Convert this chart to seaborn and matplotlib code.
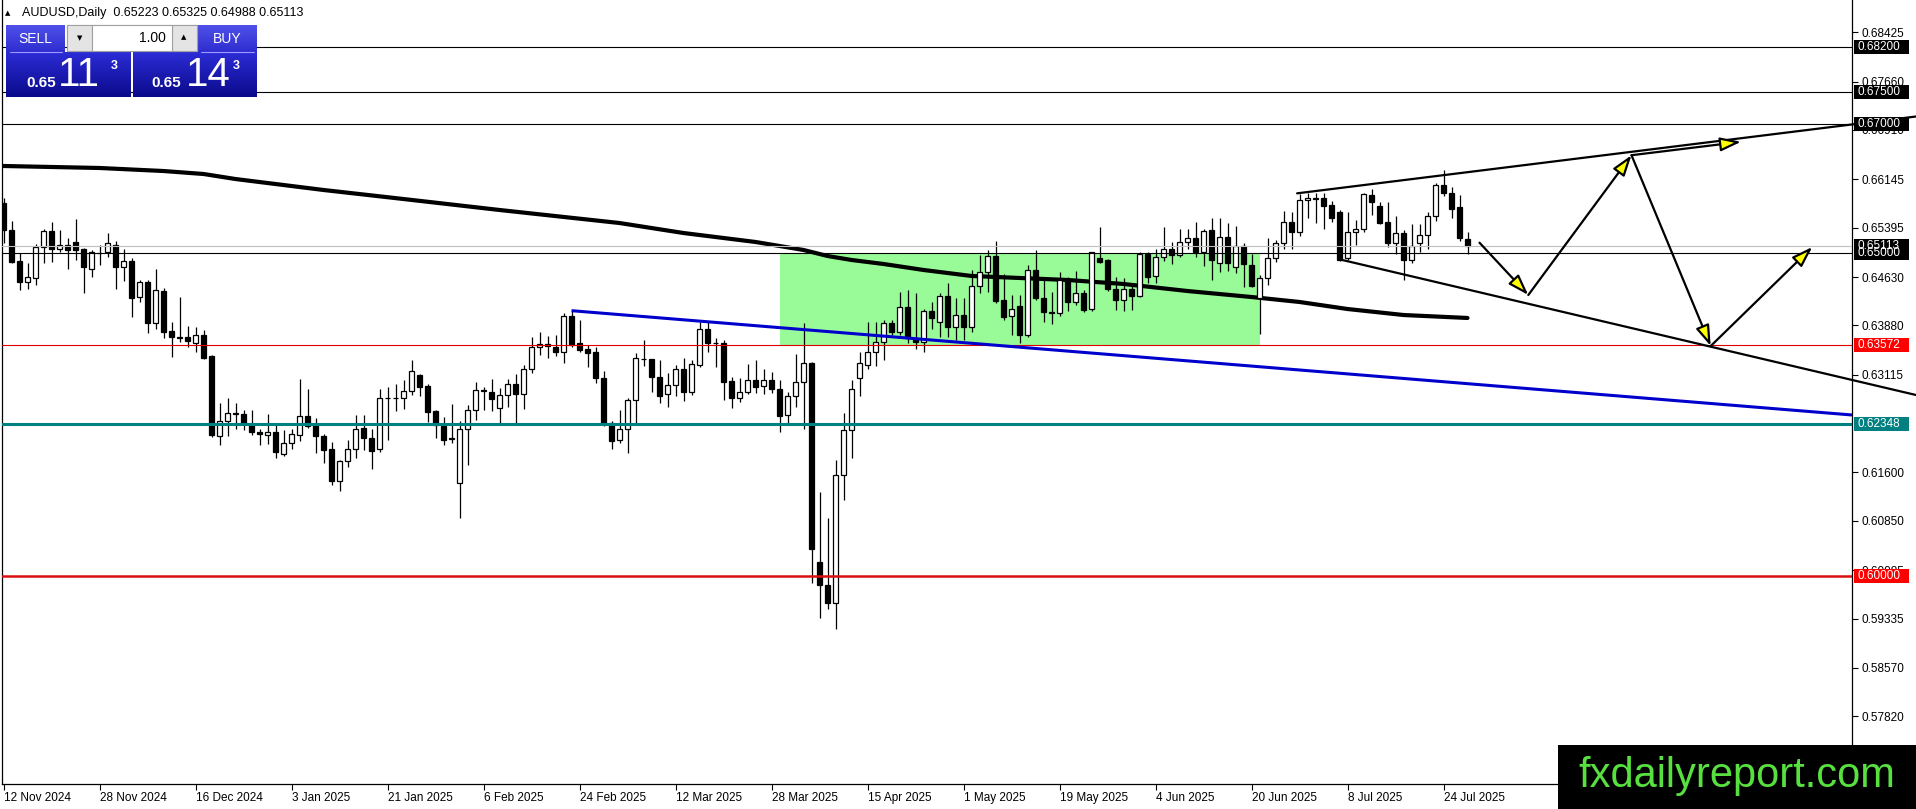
import numpy as np
import matplotlib
matplotlib.use("Agg")
import matplotlib.pyplot as plt
import matplotlib.colors as mcolors
import matplotlib.transforms as mtransforms
from matplotlib.patches import Rectangle
import seaborn as sns

# ---------------------------------------------------------------- data
symbol = "AUDUSD,Daily"

opens = [
    0.6577, 0.6536, 0.6488, 0.6456, 0.6462, 0.6510, 0.6534, 0.6506, 0.6513, 0.6517,
    0.6506, 0.6476, 0.6500, 0.6501, 0.6513, 0.6478, 0.6488, 0.6432, 0.6455, 0.6392,
    0.6441, 0.6379, 0.6370, 0.6370, 0.6360, 0.6373, 0.6340, 0.6217, 0.6240, 0.6252,
    0.6251, 0.6234, 0.6223, 0.6218, 0.6222, 0.6189, 0.6205, 0.6218, 0.6247, 0.6234,
    0.6216, 0.6196, 0.6147, 0.6178, 0.6196, 0.6229, 0.6214, 0.6196, 0.6276, 0.6275,
    0.6275, 0.6287, 0.6311, 0.6294, 0.6255, 0.6232, 0.6213, 0.6143, 0.6228, 0.6257,
    0.6287, 0.6285, 0.6260, 0.6280, 0.6297, 0.6281, 0.6320, 0.6354, 0.6359, 0.6354,
    0.6346, 0.6403, 0.6361, 0.6352, 0.6347, 0.6307, 0.6237, 0.6211, 0.6227, 0.6273,
    0.6336, 0.6336, 0.6308, 0.6281, 0.6295, 0.6321, 0.6285, 0.6327, 0.6383, 0.6361,
    0.6361, 0.6302, 0.6275, 0.6285, 0.6304, 0.6294, 0.6303, 0.6289, 0.6249, 0.6279,
    0.6301, 0.6330, 0.6022, 0.5985, 0.5958, 0.6156, 0.6226, 0.6306, 0.6327, 0.6346,
    0.6363, 0.6391, 0.6377, 0.6417, 0.6369, 0.6363, 0.6411, 0.6394, 0.6434, 0.6386,
    0.6404, 0.6385, 0.6449, 0.6470, 0.6496, 0.6427, 0.6402, 0.6418, 0.6373, 0.6474,
    0.6430, 0.6408, 0.6407, 0.6458, 0.6425, 0.6438, 0.6413, 0.6493, 0.6489, 0.6445,
    0.6428, 0.6444, 0.6434, 0.6499, 0.6464, 0.6494, 0.6507, 0.6497, 0.6518, 0.6524,
    0.6502, 0.6536, 0.6484, 0.6525, 0.6478, 0.6511, 0.6481, 0.6431, 0.6461, 0.6492,
    0.6515, 0.6549, 0.6533, 0.6582, 0.6586, 0.6586, 0.6574, 0.6563, 0.6493, 0.6532,
    0.6537, 0.6590, 0.6573, 0.6549, 0.6516, 0.6531, 0.6490, 0.6515, 0.6528, 0.6557,
    0.6605, 0.6594, 0.6571, 0.65223,
]
highs = [
    0.6585, 0.6550, 0.6500, 0.6484, 0.6514, 0.6537, 0.6548, 0.6536, 0.6524, 0.6553,
    0.6508, 0.6505, 0.6512, 0.6531, 0.6519, 0.6507, 0.6493, 0.6458, 0.6458, 0.6475,
    0.6446, 0.6393, 0.6432, 0.6387, 0.6385, 0.6381, 0.6342, 0.6267, 0.6276, 0.6267,
    0.6257, 0.6257, 0.6228, 0.6250, 0.6233, 0.6226, 0.6227, 0.6305, 0.6290, 0.6244,
    0.6219, 0.6208, 0.6180, 0.6210, 0.6249, 0.6249, 0.6228, 0.6289, 0.6292, 0.6297,
    0.6303, 0.6334, 0.6312, 0.6297, 0.6257, 0.6246, 0.6266, 0.6240, 0.6265, 0.6301,
    0.6292, 0.6305, 0.6291, 0.6305, 0.6313, 0.6326, 0.6370, 0.6377, 0.6372, 0.6373,
    0.6407, 0.6411, 0.6396, 0.6358, 0.6355, 0.6317, 0.6240, 0.6257, 0.6275, 0.6345,
    0.6366, 0.6336, 0.6334, 0.6314, 0.6327, 0.6337, 0.6334, 0.6394, 0.6394, 0.6369,
    0.6366, 0.6308, 0.6307, 0.6328, 0.6334, 0.6321, 0.6316, 0.6303, 0.6285, 0.6344,
    0.6392, 0.6332, 0.6130, 0.6089, 0.6179, 0.6252, 0.6303, 0.6347, 0.6394, 0.6394,
    0.6397, 0.6396, 0.6440, 0.6443, 0.6438, 0.6413, 0.6425, 0.6438, 0.6453, 0.6430,
    0.6430, 0.6474, 0.6497, 0.6505, 0.6519, 0.6467, 0.6435, 0.6435, 0.6482, 0.6505,
    0.6458, 0.6440, 0.6470, 0.6463, 0.6473, 0.6443, 0.6502, 0.6540, 0.6491, 0.6463,
    0.6461, 0.6449, 0.6502, 0.6502, 0.6507, 0.6541, 0.6518, 0.6537, 0.6537, 0.6549,
    0.6537, 0.6555, 0.6555, 0.6546, 0.6542, 0.6515, 0.6499, 0.6466, 0.6523, 0.6521,
    0.6566, 0.6564, 0.6592, 0.6594, 0.6594, 0.6593, 0.6581, 0.6567, 0.6563, 0.6551,
    0.6594, 0.6599, 0.6580, 0.6580, 0.6557, 0.6536, 0.6545, 0.6545, 0.6563, 0.6608,
    0.6629, 0.6603, 0.6590, 0.65325,
]
lows = [
    0.6516, 0.6484, 0.6443, 0.6445, 0.6450, 0.6485, 0.6487, 0.6501, 0.6475, 0.6490,
    0.6438, 0.6463, 0.6482, 0.6494, 0.6445, 0.6457, 0.6401, 0.6425, 0.6376, 0.6382,
    0.6368, 0.6339, 0.6362, 0.6355, 0.6347, 0.6336, 0.6215, 0.6202, 0.6216, 0.6227,
    0.6226, 0.6218, 0.6203, 0.6204, 0.6182, 0.6186, 0.6196, 0.6209, 0.6229, 0.6190,
    0.6174, 0.6141, 0.6132, 0.6168, 0.6183, 0.6195, 0.6166, 0.6191, 0.6210, 0.6256,
    0.6258, 0.6280, 0.6278, 0.6239, 0.6213, 0.6202, 0.6206, 0.6090, 0.6172, 0.6242,
    0.6257, 0.6256, 0.6237, 0.6262, 0.6236, 0.6258, 0.6314, 0.6342, 0.6337, 0.6340,
    0.6330, 0.6355, 0.6346, 0.6324, 0.6298, 0.6232, 0.6196, 0.6206, 0.6190, 0.6237,
    0.6325, 0.6285, 0.6267, 0.6262, 0.6279, 0.6271, 0.6280, 0.6324, 0.6346, 0.6324,
    0.6273, 0.6260, 0.6270, 0.6281, 0.6283, 0.6282, 0.6283, 0.6222, 0.6237, 0.6261,
    0.6228, 0.5988, 0.5935, 0.5949, 0.5917, 0.6118, 0.6183, 0.6278, 0.6321, 0.6325,
    0.6335, 0.6373, 0.6373, 0.6360, 0.6352, 0.6346, 0.6382, 0.6370, 0.6370, 0.6366,
    0.6366, 0.6377, 0.6438, 0.6440, 0.6423, 0.6397, 0.6373, 0.6360, 0.6370, 0.6427,
    0.6394, 0.6390, 0.6402, 0.6411, 0.6420, 0.6409, 0.6411, 0.6484, 0.6442, 0.6412,
    0.6410, 0.6412, 0.6432, 0.6453, 0.6453, 0.6488, 0.6483, 0.6494, 0.6507, 0.6494,
    0.6480, 0.6459, 0.6470, 0.6473, 0.6469, 0.6448, 0.6448, 0.6374, 0.6451, 0.6487,
    0.6506, 0.6507, 0.6526, 0.6554, 0.6546, 0.6538, 0.6549, 0.6488, 0.6490, 0.6513,
    0.6532, 0.6559, 0.6545, 0.6509, 0.6499, 0.6458, 0.6485, 0.6502, 0.6506, 0.6550,
    0.6588, 0.6554, 0.6519, 0.64988,
]
closes = [
    0.6536, 0.6487, 0.6456, 0.6463, 0.6510, 0.6534, 0.6506, 0.6513, 0.6505, 0.6505,
    0.6478, 0.6501, 0.6500, 0.6515, 0.6478, 0.6488, 0.6431, 0.6455, 0.6392, 0.6443,
    0.6378, 0.6370, 0.6369, 0.6364, 0.6373, 0.6338, 0.6218, 0.6240, 0.6252, 0.6250,
    0.6237, 0.6222, 0.6219, 0.6222, 0.6191, 0.6205, 0.6220, 0.6247, 0.6232, 0.6217,
    0.6195, 0.6147, 0.6178, 0.6196, 0.6228, 0.6214, 0.6194, 0.6276, 0.6275, 0.6276,
    0.6286, 0.6317, 0.6293, 0.6254, 0.6233, 0.6210, 0.6212, 0.6228, 0.6257, 0.6288,
    0.6288, 0.6274, 0.6280, 0.6297, 0.6281, 0.6320, 0.6354, 0.6359, 0.6356, 0.6346,
    0.6403, 0.6358, 0.6350, 0.6345, 0.6307, 0.6235, 0.6209, 0.6227, 0.6273, 0.6337,
    0.6336, 0.6308, 0.6279, 0.6295, 0.6321, 0.6285, 0.6328, 0.6383, 0.6361, 0.6361,
    0.6301, 0.6275, 0.6285, 0.6304, 0.6293, 0.6303, 0.6289, 0.6248, 0.6279, 0.6301,
    0.6330, 0.6042, 0.5985, 0.5957, 0.6156, 0.6226, 0.6290, 0.6329, 0.6347, 0.6363,
    0.6391, 0.6377, 0.6417, 0.6368, 0.6362, 0.6411, 0.6400, 0.6434, 0.6385, 0.6404,
    0.6385, 0.6449, 0.6470, 0.6496, 0.6426, 0.6401, 0.6414, 0.6373, 0.6474, 0.6430,
    0.6408, 0.6407, 0.6458, 0.6425, 0.6438, 0.6412, 0.6501, 0.6487, 0.6445, 0.6428,
    0.6444, 0.6434, 0.6499, 0.6463, 0.6494, 0.6507, 0.6497, 0.6518, 0.6524, 0.6501,
    0.6535, 0.6490, 0.6525, 0.6484, 0.6511, 0.6483, 0.6449, 0.6461, 0.6492, 0.6515,
    0.6549, 0.6533, 0.6583, 0.6585, 0.6584, 0.6573, 0.6555, 0.6490, 0.6533, 0.6537,
    0.6592, 0.6580, 0.6547, 0.6516, 0.6531, 0.6490, 0.6511, 0.6528, 0.6557, 0.6605,
    0.6593, 0.6568, 0.6523, 0.65113,
]

date_tick_bars = [0, 12, 24, 36, 48, 60, 72, 84, 96, 108, 120, 132, 144, 156, 168, 180]
date_tick_labels = ["12 Nov 2024", "28 Nov 2024", "16 Dec 2024", "3 Jan 2025",
                    "21 Jan 2025", "6 Feb 2025", "24 Feb 2025", "12 Mar 2025",
                    "28 Mar 2025", "15 Apr 2025", "1 May 2025", "19 May 2025",
                    "4 Jun 2025", "20 Jun 2025", "8 Jul 2025", "24 Jul 2025"]

price_ticks = [0.68425, 0.67660, 0.66910, 0.66145, 0.65395, 0.64630, 0.63880,
               0.63115, 0.61600, 0.60850, 0.60085, 0.59335, 0.58570, 0.57820]

# long moving average (values read at anchor bars)
ma_bars = [0, 12, 20, 25, 29, 33, 40, 50, 62, 77, 85, 94, 100, 103, 106, 110,
           115, 121, 127, 133, 140, 148, 156, 162, 168, 175, 183]
ma_values = [0.66351, 0.66320, 0.66273, 0.66227, 0.66149, 0.66087, 0.65979, 0.65839,
             0.65669, 0.65467, 0.65312, 0.65173, 0.65049, 0.64956, 0.64894, 0.64832,
             0.64739, 0.64646, 0.64615, 0.64584, 0.64522, 0.64413, 0.64320, 0.64243,
             0.64134, 0.64041, 0.63995]

# horizontal levels
level_prices = [0.68200, 0.67500, 0.67000, 0.65113, 0.65000, 0.63572, 0.62348, 0.60000]
level_line_colors = ["black", "black", "black", "#C0C0C0", "black", "#E00000", "#008080", "#D81010"]
level_box_colors = ["black", "black", "black", "black", "black", "#FF0000", "#008080", "#FF0000"]
level_widths = [0.8, 0.8, 0.8, 0.8, 0.8, 0.8, 2.2, 1.8]

# green range box (bar start, bar end, low, high)
zone_bars = [97, 157]
zone_prices = [0.63572, 0.65000]

# blue descending trend line anchors (bar, price)
blue_bars = [71, 160]
blue_prices = [0.64108, 0.63209]

# broadening channel
upper_bars = [161.7, 239.06]
upper_prices = [0.65927, 0.67118]
lower_bars = [167.0, 239.06]
lower_prices = [0.64904, 0.62801]

# projected zig-zag path
zig_bars = [184.5, 190.6, 203.5, 213.4, 226.1]
zig_prices = [0.65162, 0.64351, 0.66518, 0.63560, 0.65095]
branch_bars = [203.5, 217.2]
branch_prices = [0.66518, 0.66726]

# ---------------------------------------------------------------- figure
sns.set_theme(style="white")
plt.rcParams["font.family"] = ["Liberation Sans", "DejaVu Sans"]

W, H = 1916, 809
fig = plt.figure(figsize=(W / 100, H / 100), dpi=100, facecolor="white")
AX_L, AX_R, AX_T, AX_B = 2, 1852, 0, 784
ax = fig.add_axes([AX_L / W, 1 - AX_B / H, (AX_R - AX_L) / W, (AX_B - AX_T) / H])
ax.set_facecolor("white")
ax.grid(False)

BAR_PX, BAR0_PX = 8.0, 3.5
xmin, xmax = (AX_L - BAR0_PX) / BAR_PX, (AX_R - BAR0_PX) / BAR_PX
ymin, ymax = 0.56771, 0.68924
ax.set_xlim(xmin, xmax)
ax.set_ylim(ymin, ymax)
px_per_price = (AX_B - AX_T) / (ymax - ymin)

# green zone
ax.add_patch(Rectangle((zone_bars[0], zone_prices[0]), zone_bars[1] - zone_bars[0],
                       zone_prices[1] - zone_prices[0], facecolor="#98FB98",
                       edgecolor="none", zorder=0.5))

# moving average
sns.lineplot(x=ma_bars, y=ma_values, ax=ax, color="black", linewidth=3.0,
             legend=False, zorder=2)

# candles
o, h, l, c = map(np.asarray, (opens, highs, lows, closes))
idx = np.arange(len(o))
ax.vlines(idx, l, h, colors="black", linewidth=0.9, zorder=3)
up = c >= o
body_low = np.minimum(o, c)
body_h = np.maximum(np.abs(c - o), 0.00003)
ax.bar(idx[up], body_h[up], bottom=body_low[up], width=0.62, color="white",
       edgecolor="black", linewidth=0.9, zorder=4)
ax.bar(idx[~up], body_h[~up], bottom=body_low[~up], width=0.62, color="black",
       edgecolor="black", linewidth=0.9, zorder=4)

# horizontal levels
for p, lc, lw in zip(level_prices, level_line_colors, level_widths):
    ax.axhline(p, color=lc, linewidth=lw, zorder=5)

# blue trend line extended to the right edge
slope = (blue_prices[1] - blue_prices[0]) / (blue_bars[1] - blue_bars[0])
ax.plot([blue_bars[0], xmax], [blue_prices[0], blue_prices[0] + slope * (xmax - blue_bars[0])],
        color="#0000CD", linewidth=2.2, zorder=5, solid_capstyle="butt")

# channel lines
ax.plot(upper_bars, upper_prices, color="black", linewidth=1.6, clip_on=False, zorder=6)
ax.plot(lower_bars, lower_prices, color="black", linewidth=1.6, clip_on=False, zorder=6)

# arrows
def arrow(b0, p0, b1, p1):
    ax.annotate("", xy=(b1, p1), xytext=(b0, p0), xycoords="data", textcoords="data",
                arrowprops=dict(arrowstyle="-|>,head_length=0.9,head_width=0.3",
                                fc="yellow", ec="black", lw=1.6, shrinkA=0, shrinkB=0,
                                mutation_scale=14),
                zorder=7, annotation_clip=False)

for k in range(len(zig_bars) - 1):
    arrow(zig_bars[k], zig_prices[k], zig_bars[k + 1], zig_prices[k + 1])
arrow(branch_bars[0], branch_prices[0], branch_bars[1], branch_prices[1])

# axes styling
for s in ["left", "right", "bottom"]:
    ax.spines[s].set_visible(True)
    ax.spines[s].set_color("black")
    ax.spines[s].set_linewidth(0.9)
ax.spines["top"].set_visible(False)

ax.yaxis.tick_right()
ax.set_yticks(price_ticks)
ax.set_yticklabels([f"{t:.5f}" for t in price_ticks])
ax.tick_params(axis="y", which="both", direction="out", length=4, width=0.8, pad=3,
               labelsize=8.5, colors="black", right=True, left=False)
ax.set_xticks(date_tick_bars)
ax.set_xticklabels(date_tick_labels)
ax.tick_params(axis="x", direction="out", length=4, width=0.8, pad=2,
               labelsize=8.5, colors="black", bottom=True)
for t in ax.get_xticklabels():
    t.set_horizontalalignment("left")
ax.set_xlabel("")
ax.set_ylabel("")

# price label boxes on the scale
box_tf = mtransforms.blended_transform_factory(ax.transAxes, ax.transData)
ax_w_px = AX_R - AX_L
box_x0 = (1854 - AX_L) / ax_w_px
box_w = 55 / ax_w_px
box_h = 14 / px_per_price
for p, bc in zip(level_prices, level_box_colors):
    ax.add_patch(Rectangle((box_x0, p - box_h / 2), box_w, box_h, transform=box_tf,
                           facecolor=bc, edgecolor="none", clip_on=False, zorder=10))
    ax.text(box_x0 + 4 / ax_w_px, p, f"{p:.5f}", transform=box_tf, color="white",
            fontsize=8.5, ha="left", va="center", zorder=11, clip_on=False)

# ---------------------------------------------------------------- overlay (panel, title, watermark)
ov = fig.add_axes([0, 0, 1, 1], zorder=20)
ov.set_autoscale_on(False)
ov.set_xlim(0, W)
ov.set_ylim(H, 0)
ov.axis("off")
ov.patch.set_alpha(0)


def vgrad(x0, x1, y0, y1, c_top, c_bot):
    top = np.array(mcolors.to_rgb(c_top))
    bot = np.array(mcolors.to_rgb(c_bot))
    t = np.linspace(0, 1, 64)[:, None]
    img = (top * (1 - t) + bot * t)[:, None, :]
    ov.imshow(img, extent=(x0, x1, y1, y0), aspect="auto", interpolation="bilinear", zorder=1)


vgrad(6, 65, 25, 52, "#5050e8", "#2e2ed0")
vgrad(198, 257, 25, 52, "#5050e8", "#2e2ed0")
vgrad(6, 131, 52, 97, "#2c2cd6", "#0a0a8c")
vgrad(133, 257, 52, 97, "#2c2cd6", "#0a0a8c")
ov.plot([10, 62], [51.5, 51.5], color="#9a9aff", lw=0.8, zorder=2)
ov.plot([201, 254], [51.5, 51.5], color="#9a9aff", lw=0.8, zorder=2)

ov.add_patch(Rectangle((67, 25), 130, 26, facecolor="#f0f0f0", edgecolor="#a0a0a0", lw=0.8, zorder=2))
ov.add_patch(Rectangle((67, 25), 25, 26, facecolor="#e4e4e4", edgecolor="#a0a0a0", lw=0.8, zorder=3))
ov.add_patch(Rectangle((172, 25), 25, 26, facecolor="#e4e4e4", edgecolor="#a0a0a0", lw=0.8, zorder=3))
ov.add_patch(Rectangle((92, 25), 80, 26, facecolor="white", edgecolor="#a0a0a0", lw=0.8, zorder=3))

ov.text(35, 39, "SELL", color="white", fontsize=10, ha="center", va="center", zorder=5)
ov.text(227, 39, "BUY", color="white", fontsize=10, ha="center", va="center", zorder=5)
ov.text(166, 38, "1.00", color="black", fontsize=10, ha="right", va="center", zorder=5)
ov.text(80, 38, "▼", color="black", fontsize=5, ha="center", va="center", zorder=5,
        family=["DejaVu Sans"])
ov.text(184, 37, "▲", color="black", fontsize=5, ha="center", va="center", zorder=5,
        family=["DejaVu Sans"])

bid_str, ask_str = "11", "14"
ov.text(41, 83, "0.65", color="white", fontsize=11, fontweight="bold", ha="center", va="center", zorder=5)
ov.text(79, 75, bid_str, color="white", fontsize=29, ha="center", va="center", zorder=5)
ov.text(114, 66, "3", color="white", fontsize=9, fontweight="bold", ha="center", va="center", zorder=5)
ov.text(166, 83, "0.65", color="white", fontsize=11, fontweight="bold", ha="center", va="center", zorder=5)
ov.text(208, 75, ask_str, color="white", fontsize=29, ha="center", va="center", zorder=5)
ov.text(236, 66, "3", color="white", fontsize=9, fontweight="bold", ha="center", va="center", zorder=5)

ov.text(8, 13, "▲", color="black", fontsize=5, ha="center", va="center", family=["DejaVu Sans"])
ov.text(22, 13, f"{symbol}  {opens[-1]:.5f} {highs[-1]:.5f} {lows[-1]:.5f} {closes[-1]:.5f}",
        color="black", fontsize=9, ha="left", va="center")

ov.add_patch(Rectangle((1558, 745), W - 1558, H - 745, facecolor="black", edgecolor="none", zorder=5))
ov.text(1737, 776, "fxdailyreport.com", color="#57E03F", fontsize=30, ha="center",
        va="center", zorder=6)

fig.savefig("out.png", dpi=100, facecolor="white")
